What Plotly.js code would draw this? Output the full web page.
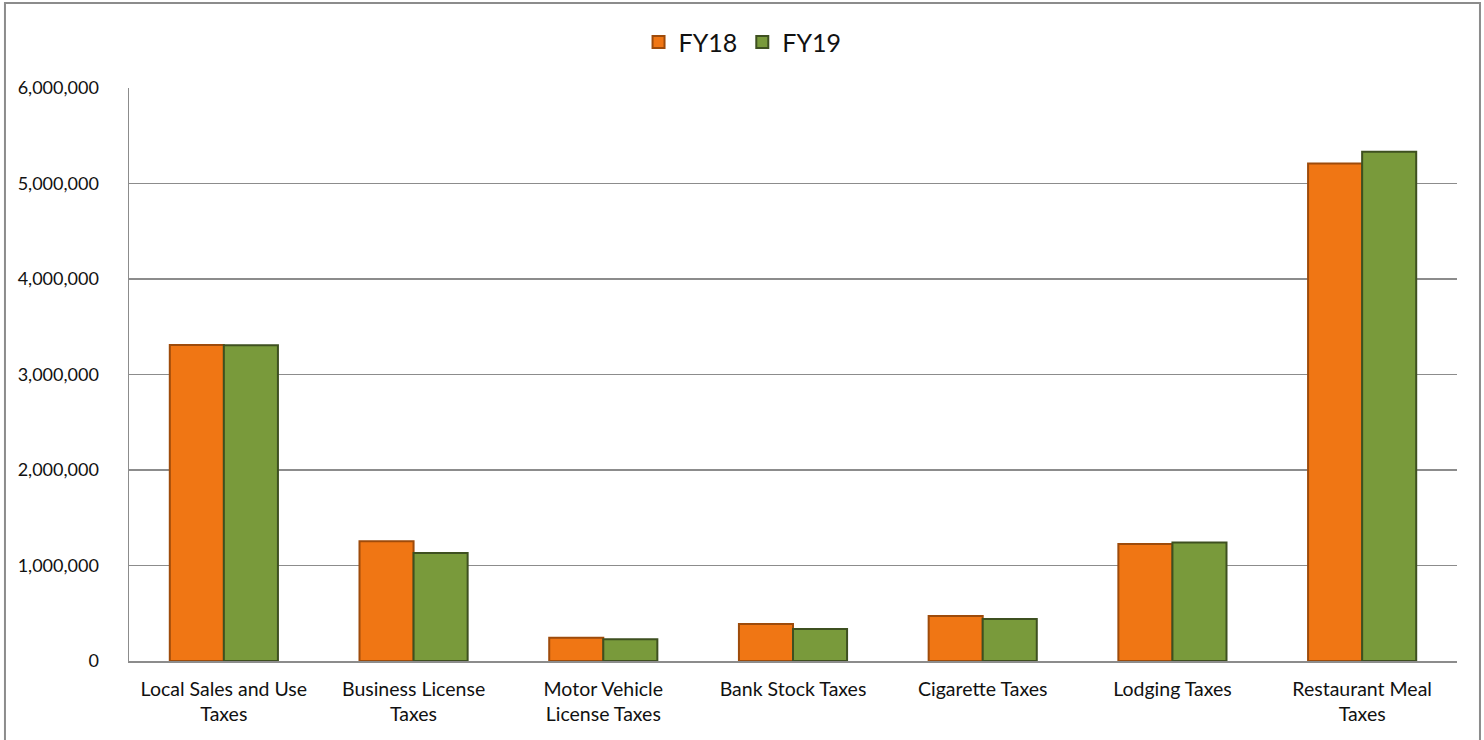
<!DOCTYPE html>
<html>
<head>
<meta charset="utf-8">
<script src="https://cdn.plot.ly/plotly-3.0.1.min.js"></script>
<style>
  html, body { margin: 0; padding: 0; background: #ffffff; }
  #chart { width: 1484px; height: 740px; }
</style>
</head>
<body>
<div id="chart"></div>
<script>
// Local tax revenue by source, FY18 vs FY19
const categories = [
  "Local Sales and Use<br>Taxes",
  "Business License<br>Taxes",
  "Motor Vehicle<br>License Taxes",
  "Bank Stock Taxes",
  "Cigarette Taxes",
  "Lodging Taxes",
  "Restaurant Meal<br>Taxes"
];
const fy18 = [3310000, 1255000, 244000, 387000, 470000, 1225000, 5210000];
const fy19 = [3305000, 1130000, 227000, 335000, 440000, 1240000, 5333000];
const yTickVals = [0, 1000000, 2000000, 3000000, 4000000, 5000000, 6000000];
const yTickText = ["0", "1,000,000", "2,000,000", "3,000,000", "4,000,000", "5,000,000", "6,000,000"];

const FONT = "Lato, 'Open Sans', 'DejaVu Sans', sans-serif";

const traces = [
  {
    type: "bar", name: "FY18", x: categories, y: fy18,
    marker: { color: "#F07614", line: { color: "#9E4B0B", width: 2 } },
    hoverinfo: "x+y"
  },
  {
    type: "bar", name: "FY19", x: categories, y: fy19,
    marker: { color: "#799A3B", line: { color: "#3E5020", width: 2 } },
    hoverinfo: "x+y"
  }
];

const layout = {
  width: 1484, height: 740,
  margin: { l: 129, r: 27, t: 88, b: 79 },
  paper_bgcolor: "#ffffff", plot_bgcolor: "#ffffff",
  font: { family: FONT, size: 18, color: "#111111" },
  barmode: "group",
  bargap: 0.43, bargroupgap: 0,
  showlegend: true,
  legend: {
    orientation: "h", x: 0.462, y: 1.08, xanchor: "center", yanchor: "middle",
    font: { family: FONT, size: 25, color: "#111111" },
    itemwidth: 30, traceorder: "normal", bgcolor: "rgba(0,0,0,0)"
  },
  xaxis: {
    type: "category",
    showline: true, linecolor: "#8c8c8c", linewidth: 1.5,
    showgrid: false, ticks: "", ticklabelstandoff: 10,
    tickfont: { family: FONT, size: 19.5, color: "#111111" },
    fixedrange: true
  },
  yaxis: {
    range: [0, 6000000],
    tickvals: yTickVals, ticktext: yTickText,
    showline: true, linecolor: "#8c8c8c", linewidth: 1.5,
    showgrid: true, gridcolor: "#8c8c8c", gridwidth: 1.5,
    zeroline: false, ticks: "", ticklabelstandoff: 25,
    tickfont: { family: FONT, size: 18, color: "#111111" },
    fixedrange: true
  },
  shapes: [
    {
      type: "rect", xref: "paper", yref: "paper",
      x0: -0.0934, x1: 1.0173, y0: -0.16, y1: 1.1484,
      line: { color: "#8c8c8c", width: 2 }, fillcolor: "rgba(0,0,0,0)", layer: "below"
    }
  ]
};

Plotly.newPlot("chart", traces, layout, { displayModeBar: false, staticPlot: true });
</script>
</body>
</html>
